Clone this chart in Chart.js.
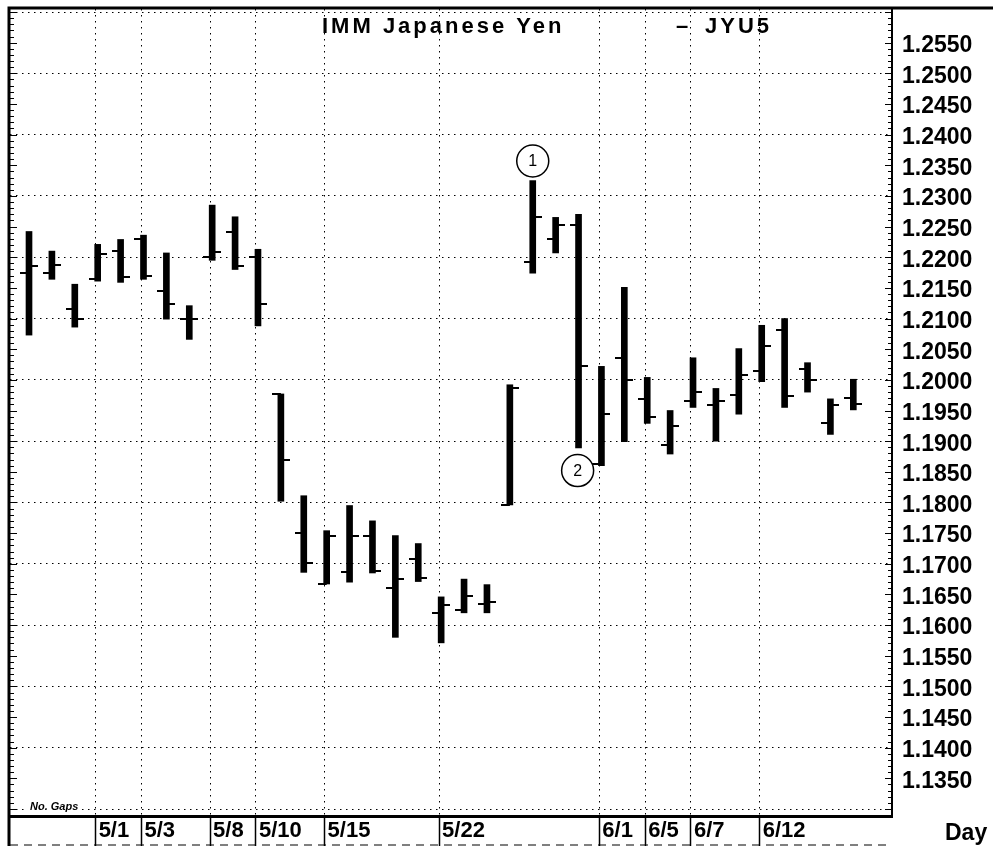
<!DOCTYPE html>
<html>
<head>
<meta charset="utf-8">
<title>IMM Japanese Yen - JYU5</title>
<script src="https://cdn.jsdelivr.net/npm/chart.js@4.4.1/dist/chart.umd.min.js"></script>
<style>
  html, body { margin: 0; padding: 0; background: #fff; }
  #wrap { width: 993px; height: 846px; position: relative; }
</style>
</head>
<body>
<div id="wrap"><canvas id="chart" width="993" height="846"></canvas></div>
<script>
// daily bars, no gaps for weekends / holidays
const days = ["4/26", "4/27", "4/28", "5/1", "5/2", "5/3", "5/4", "5/5", "5/8", "5/9",
  "5/10", "5/11", "5/12", "5/15", "5/16", "5/17", "5/18", "5/19", "5/22", "5/23",
  "5/24", "5/25", "5/26", "5/30", "5/31", "6/1", "6/2", "6/5", "6/6", "6/7",
  "6/8", "6/9", "6/12", "6/13", "6/14", "6/15", "6/16"];

const opens = [1.2175, 1.2175, 1.2115, 1.2164, 1.2210, 1.2229, 1.2145, 1.2099, 1.2200, 1.2241,
  1.2201, 1.1977, 1.1751, 1.1667, 1.1686, 1.1746, 1.1661, 1.1707, 1.1620, 1.1625,
  1.1634, 1.1796, 1.2193, 1.2229, 1.2252, 1.1862, 1.2035, 1.1968, 1.1894, 1.1966,
  1.1959, 1.1975, 1.2015, 1.2081, 1.2017, 1.1930, 1.1970];
const highs = [1.2242, 1.2210, 1.2156, 1.2221, 1.2229, 1.2236, 1.2207, 1.2121, 1.2285, 1.2266,
  1.2213, 1.1977, 1.1811, 1.1754, 1.1795, 1.1770, 1.1746, 1.1733, 1.1646, 1.1675,
  1.1666, 1.1992, 1.2325, 1.2265, 1.2270, 1.2022, 1.2151, 1.2004, 1.1950, 1.2036,
  1.1986, 1.2051, 1.2089, 1.2100, 1.2028, 1.1969, 1.2001];
const lows = [1.2073, 1.2164, 1.2086, 1.2161, 1.2159, 1.2164, 1.2099, 1.2066, 1.2195, 1.2180,
  1.2088, 1.1802, 1.1686, 1.1667, 1.1670, 1.1685, 1.1580, 1.1671, 1.1571, 1.1620,
  1.1620, 1.1796, 1.2174, 1.2207, 1.1889, 1.1860, 1.1899, 1.1929, 1.1879, 1.1955,
  1.1900, 1.1944, 1.1997, 1.1955, 1.1980, 1.1911, 1.1951];
const closes = [1.2185, 1.2187, 1.2099, 1.2205, 1.2167, 1.2170, 1.2124, 1.2100, 1.2208, 1.2185,
  1.2124, 1.1870, 1.1702, 1.1746, 1.1746, 1.1689, 1.1675, 1.1676, 1.1632, 1.1648,
  1.1637, 1.1987, 1.2265, 1.2252, 1.2022, 1.1944, 1.2000, 1.1940, 1.1925, 1.1981,
  1.1965, 1.2008, 1.2055, 1.1973, 1.1999, 1.1959, 1.1960];

// x axis: only these days get a label box
const xTickLabels = ["5/1", "5/3", "5/8", "5/10", "5/15", "5/22", "6/1", "6/5", "6/7", "6/12"];
// y axis
const yTickLabels = ["1.1350", "1.1400", "1.1450", "1.1500", "1.1550", "1.1600", "1.1650",
  "1.1700", "1.1750", "1.1800", "1.1850", "1.1900", "1.1950", "1.2000", "1.2050", "1.2100",
  "1.2150", "1.2200", "1.2250", "1.2300", "1.2350", "1.2400", "1.2450", "1.2500", "1.2550"];
const yGridLines = [1.13, 1.14, 1.15, 1.16, 1.17, 1.18, 1.19, 1.20, 1.21, 1.22, 1.23, 1.24, 1.25, 1.26];

// circled notes on the chart
const notes = [
  { x: 22, y: 1.2357, label: "1" },
  { x: 23.96, y: 1.1852, label: "2" },
];

const FONT = "'Liberation Sans', Arial, sans-serif";

// small horizontal tick images for open (left) / close (right)
const makeTick = function (side) {
  const c = document.createElement("canvas");
  c.width = 18;
  c.height = 2;
  const g = c.getContext("2d");
  g.fillStyle = "#000";
  g.fillRect(side === "left" ? 0 : 9, 0, 9, 2);
  return c;
};
const openTick = makeTick("left");
const closeTick = makeTick("right");

const isGrid = (v) => yGridLines.some((g) => Math.abs(g - v) < 1e-7);

// no extra room for overhanging labels, the plot box is fixed
const noPad = function (scale) {
  scale.paddingTop = 0;
  scale.paddingBottom = 0;
  scale.paddingLeft = 0;
  scale.paddingRight = 0;
};

const frame = {
  id: "frame",
  afterDraw(chart) {
    const { ctx, chartArea: a, scales } = chart;
    const y = scales.y;
    ctx.save();
    ctx.strokeStyle = "#000";
    // outer frame
    ctx.lineWidth = 3;
    ctx.beginPath();
    ctx.moveTo(a.left - 1, 846);
    ctx.lineTo(a.left - 1, a.top - 1);
    ctx.lineTo(993, a.top - 1);
    ctx.stroke();
    // minor ticks on both price axes
    ctx.lineWidth = 1;
    ctx.beginPath();
    for (let k = 1129; k <= 1260; k++) {
      const py = Math.round(y.getPixelForValue(k / 1000)) + 0.5;
      const len = k % 5 === 0 ? 7 : 4;
      ctx.moveTo(a.right - len, py);
      ctx.lineTo(a.right, py);
      ctx.moveTo(a.left, py);
      ctx.lineTo(a.left + len, py);
    }
    ctx.stroke();
    // dashed line under the date boxes
    ctx.setLineDash([8, 6]);
    ctx.beginPath();
    ctx.moveTo(a.left, 845);
    ctx.lineTo(a.right, 845);
    ctx.stroke();
    ctx.setLineDash([]);

    // title
    ctx.fillStyle = "#000";
    ctx.textBaseline = "alphabetic";
    ctx.font = "bold 22px " + FONT;
    ctx.letterSpacing = "3px";
    ctx.fillText("IMM Japanese Yen", 322, 33);
    ctx.fillText("\u2013", 676, 33);
    ctx.fillText("JYU5", 705, 33);
    ctx.letterSpacing = "0px";

    // "No. Gaps"
    ctx.font = "bold italic 11px " + FONT;
    const w = ctx.measureText("No. Gaps").width;
    const gy = y.getPixelForValue(1.13);
    ctx.fillStyle = "#fff";
    ctx.fillRect(28, gy - 9, w + 4, 12);
    ctx.fillStyle = "#000";
    ctx.fillText("No. Gaps", 30, gy + 1);

    // axis name
    ctx.font = "bold 23px " + FONT;
    ctx.fillText("Day", 945, 840);

    // numbers in the circles
    const meta = chart.getDatasetMeta(0);
    ctx.font = "16px " + FONT;
    ctx.textAlign = "center";
    ctx.textBaseline = "middle";
    meta.data.forEach((pt, i) => {
      ctx.fillText(notes[i].label, pt.x, pt.y + 1);
    });
    ctx.restore();
  },
};

new Chart(document.getElementById("chart"), {
  type: "bar",
  data: {
    datasets: [
      {
        type: "scatter",
        data: notes.map((n) => ({ x: n.x, y: n.y })),
        pointStyle: "circle",
        pointRadius: 16,
        pointBackgroundColor: "#fff",
        pointBorderColor: "#000",
        pointBorderWidth: 1.5,
        order: 0,
      },
      {
        type: "scatter",
        data: opens.map((v, i) => ({ x: i, y: v })),
        pointStyle: openTick,
        order: 1,
      },
      {
        type: "scatter",
        data: closes.map((v, i) => ({ x: i, y: v })),
        pointStyle: closeTick,
        order: 1,
      },
      {
        type: "bar",
        data: days.map((d, i) => ({ x: i, y: [lows[i], highs[i]] })),
        backgroundColor: "#000",
        barThickness: 6,
        order: 2,
      },
    ],
  },
  options: {
    responsive: false,
    animation: false,
    events: [],
    layout: { autoPadding: false, padding: { left: 10, top: 9, right: 0, bottom: 0 } },
    plugins: {
      legend: { display: false },
      tooltip: { enabled: false },
    },
    scales: {
      x: {
        type: "linear",
        offset: false,
        min: -0.83,
        max: 37.69,
        afterBuildTicks: (scale) => {
          scale.ticks = xTickLabels.map((l) => ({ value: days.indexOf(l) - 0.09 }));
        },
        afterFit: (scale) => {
          scale.height = 30;
          noPad(scale);
        },
        ticks: {
          autoSkip: false,
          maxRotation: 0,
          align: "start",
          labelOffset: 3,
          padding: -28,
          color: "#000",
          font: { family: FONT, size: 22, weight: "bold" },
          callback: (v, i) => xTickLabels[i],
        },
        grid: {
          offset: false,
          color: "#000",
          lineWidth: 1,
          tickLength: 30,
          tickColor: "#000",
          tickWidth: 1.5,
          tickBorderDash: [],
        },
        border: { display: true, color: "#000", width: 3, dash: [1.5, 4.5] },
      },
      y: {
        type: "linear",
        position: "right",
        min: 1.12886,
        max: 1.26049,
        afterBuildTicks: (scale) => {
          const vals = yGridLines.concat(yTickLabels.map(Number));
          scale.ticks = [...new Set(vals.map((v) => v.toFixed(4)))]
            .map(Number)
            .sort((a, b) => a - b)
            .map((v) => ({ value: v }));
        },
        afterFit: (scale) => {
          scale.width = 101;
          noPad(scale);
        },
        ticks: {
          autoSkip: false,
          padding: 10,
          labelOffset: 3,
          color: "#000",
          font: { family: FONT, size: 23, weight: "bold" },
          callback: (v) => (yTickLabels.includes(v.toFixed(4)) ? v.toFixed(4) : ""),
        },
        grid: {
          drawTicks: false,
          color: (c) => (c.tick && isGrid(c.tick.value) ? "#000" : "rgba(0,0,0,0)"),
          lineWidth: 1,
        },
        border: { display: true, color: "#000", width: 2, dash: [1.5, 4.5] },
      },
    },
  },
  plugins: [frame],
});
</script>
</body>
</html>
